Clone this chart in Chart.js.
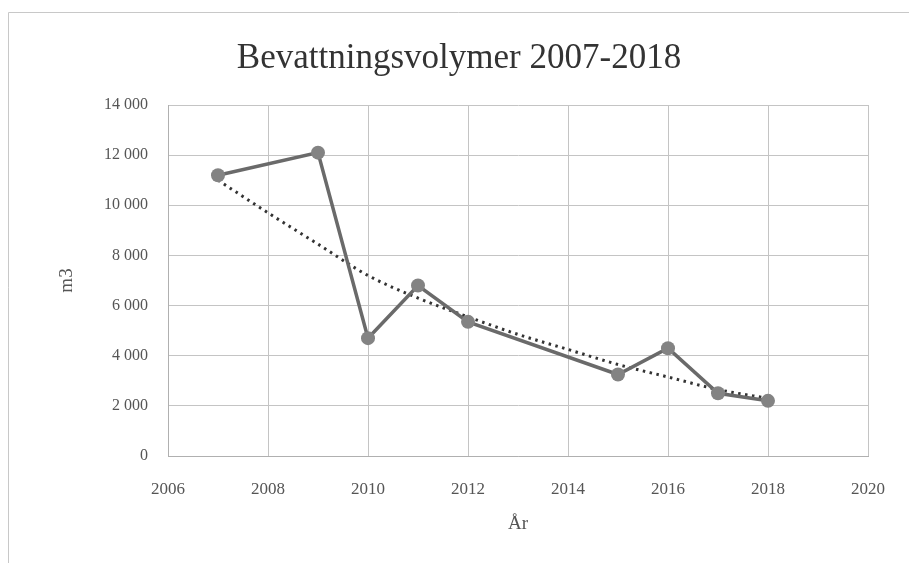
<!DOCTYPE html>
<html>
<head>
<meta charset="utf-8">
<script src="https://cdn.jsdelivr.net/npm/chart.js@4"></script>
<style>
  body { margin: 0; background: #fff; }
  canvas { display: block; }
</style>
</head>
<body>
<canvas id="myChart" width="909" height="563"></canvas>
<script>
// years and measured volumes (m3)
const years = [2007, 2009, 2010, 2011, 2012, 2015, 2016, 2017, 2018];
const volumes = [11200, 12100, 4700, 6800, 5350, 3250, 4300, 2500, 2200];

// dotted trend line
const trendYears = [2007, 2008, 2009, 2010, 2011, 2012, 2013, 2014, 2015, 2016, 2017, 2018];
const trendValues = [11000, 9700, 8450, 7200, 6300, 5550, 4850, 4250, 3650, 3150, 2650, 2300];

const fontFam = "'Liberation Serif', 'DejaVu Serif', serif";

// white background + thin frame like the scanned page
const framePlugin = {
    id: "frame",
    beforeDraw(chart) {
        const ctx = chart.ctx;
        ctx.save();
        ctx.fillStyle = "#fff";
        ctx.fillRect(0, 0, chart.width, chart.height);
        ctx.strokeStyle = "#c8c8c8";
        ctx.lineWidth = 1;
        ctx.beginPath();
        ctx.moveTo(8.5, 563);
        ctx.lineTo(8.5, 12.5);
        ctx.lineTo(909, 12.5);
        ctx.stroke();
        ctx.restore();
    },
};

const config = {
    type: "line",
    data: {
        datasets: [
            {
                label: "Volym",
                data: years.map((y, i) => ({ x: y, y: volumes[i] })),
                borderColor: "#6a6a6a",
                backgroundColor: "#838383",
                borderWidth: 3.5,
                pointRadius: 7,
                pointBorderWidth: 0,
                order: 1,
            },
            {
                label: "Trend",
                data: trendYears.map((y, i) => ({ x: y, y: trendValues[i] })),
                borderColor: "#333",
                borderWidth: 3,
                borderDash: [2.5, 4.5],
                pointRadius: 0,
                cubicInterpolationMode: "monotone",
                order: 2,
            },
        ],
    },
    options: {
        responsive: false,
        animation: false,
        layout: { padding: { left: 50, right: 41, top: 0, bottom: 24 } },
        plugins: {
            legend: { display: false },
            tooltip: { enabled: false },
            title: {
                display: true,
                text: "Bevattningsvolymer 2007-2018",
                color: "#333",
                font: { family: fontFam, size: 35, weight: "normal" },
                padding: { top: 38, bottom: 25 },
            },
        },
        scales: {
            x: {
                type: "linear",
                min: 2006,
                max: 2020,
                ticks: {
                    stepSize: 2,
                    color: "#555",
                    padding: 23,
                    font: { family: fontFam, size: 17 },
                    callback: (v) => String(v),
                },
                grid: { color: "#c4c4c4", drawTicks: false },
                border: { color: "#b0b0b0" },
                title: {
                    display: true,
                    text: "År",
                    color: "#555",
                    font: { family: fontFam, size: 19 },
                    padding: { top: 6 },
                },
                afterFit: (scale) => { scale.height = 83; },
            },
            y: {
                min: 0,
                max: 14000,
                ticks: {
                    stepSize: 2000,
                    color: "#555",
                    padding: 20,
                    font: { family: fontFam, size: 16 },
                    callback: (v) => v.toString().replace(/\B(?=(\d{3})+(?!\d))/g, " "),
                },
                grid: { color: "#c4c4c4", drawTicks: false },
                border: { color: "#b0b0b0" },
                title: {
                    display: true,
                    text: "m3",
                    color: "#555",
                    font: { family: fontFam, size: 19 },
                    padding: { top: 6, bottom: 14 },
                },
                afterFit: (scale) => { scale.width = 118; },
            },
        },
    },
    plugins: [framePlugin],
};

const myChart = new Chart(document.getElementById("myChart"), config);
</script>
</body>
</html>
